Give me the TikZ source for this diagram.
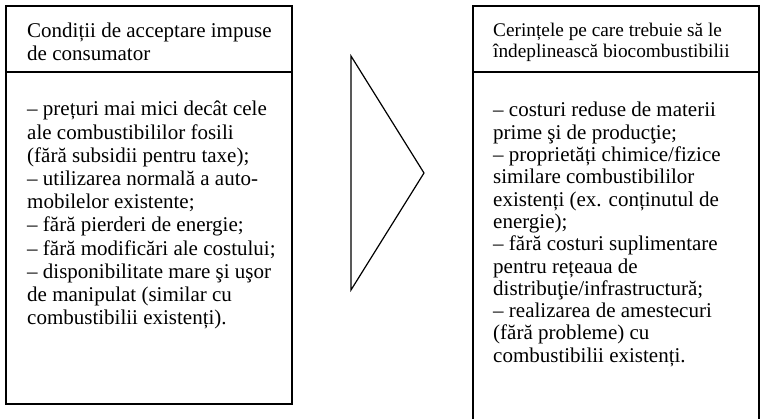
\documentclass[tikz,border=0pt]{standalone}
\usepackage{fontspec}
\setmainfont{Liberation Serif}
\begin{document}
\begin{tikzpicture}[x=1pt,y=-1pt,
  frame/.style={line width=1.6pt,line join=miter},
  arrowshape/.style={line width=1.2pt,line join=miter},
  bodytext/.style={anchor=base west,inner sep=0pt,font=\fontsize{21}{23}\selectfont},
  headtext/.style={anchor=base west,inner sep=0pt,font=\fontsize{19.3}{21}\selectfont}]
\useasboundingbox (0,0) rectangle (761,419);
\clip (0,0) rectangle (761,419);

% left panel: frame and header rule
\draw[frame] (6,6) rectangle (292,404);
\draw[frame] (6,72) -- (292,72);

% right panel: open at the bottom edge
\draw[frame] (473,430) -- (473,6) -- (759,6) -- (759,430);
\draw[frame] (473,72) -- (759,72);

% large open arrow between the panels
\draw[arrowshape] (351,56) -- (424,173) -- (351,290) -- cycle;

% left header
\foreach \t [count=\i] in {{Condiții de acceptare impuse},{de consumator}}
  \node[bodytext] (lh\i) at (27,{37.5+(\i-1)*22.6}) {\t};

% left body
\foreach \t [count=\i] in {
  {– prețuri mai mici decât cele},
  {ale combustibililor fosili},
  {(fără subsidii pentru taxe);},
  {– utilizarea normală a auto-},
  {mobilelor existente;},
  {– fără pierderi de energie;},
  {– fără modificări ale costului;},
  {– disponibilitate mare şi uşor},
  {de manipulat (similar cu},
  {combustibilii existenți).}}
  \node[bodytext] (lb\i) at (27,{116+(\i-1)*23.2}) {\t};

% right header
\foreach \t [count=\i] in {{Cerințele pe care trebuie să le},{îndeplinească biocombustibilii}}
  \node[headtext] (rh\i) at (493,{37+(\i-1)*20.5}) {\t};

% right body
\foreach \t [count=\i] in {
  {– costuri reduse de materii},
  {prime şi de producţie;},
  {– proprietăți chimice/fizice},
  {similare combustibililor},
  {existenți (ex. conținutul de},
  {energie);},
  {– fără costuri suplimentare},
  {pentru rețeaua de},
  {distribuţie/infrastructură;},
  {– realizarea de amestecuri},
  {(fără probleme) cu},
  {combustibilii existenți.}}
  \node[bodytext] (rb\i) at (493,{117+(\i-1)*22.3}) {\t};
\end{tikzpicture}
\end{document}
